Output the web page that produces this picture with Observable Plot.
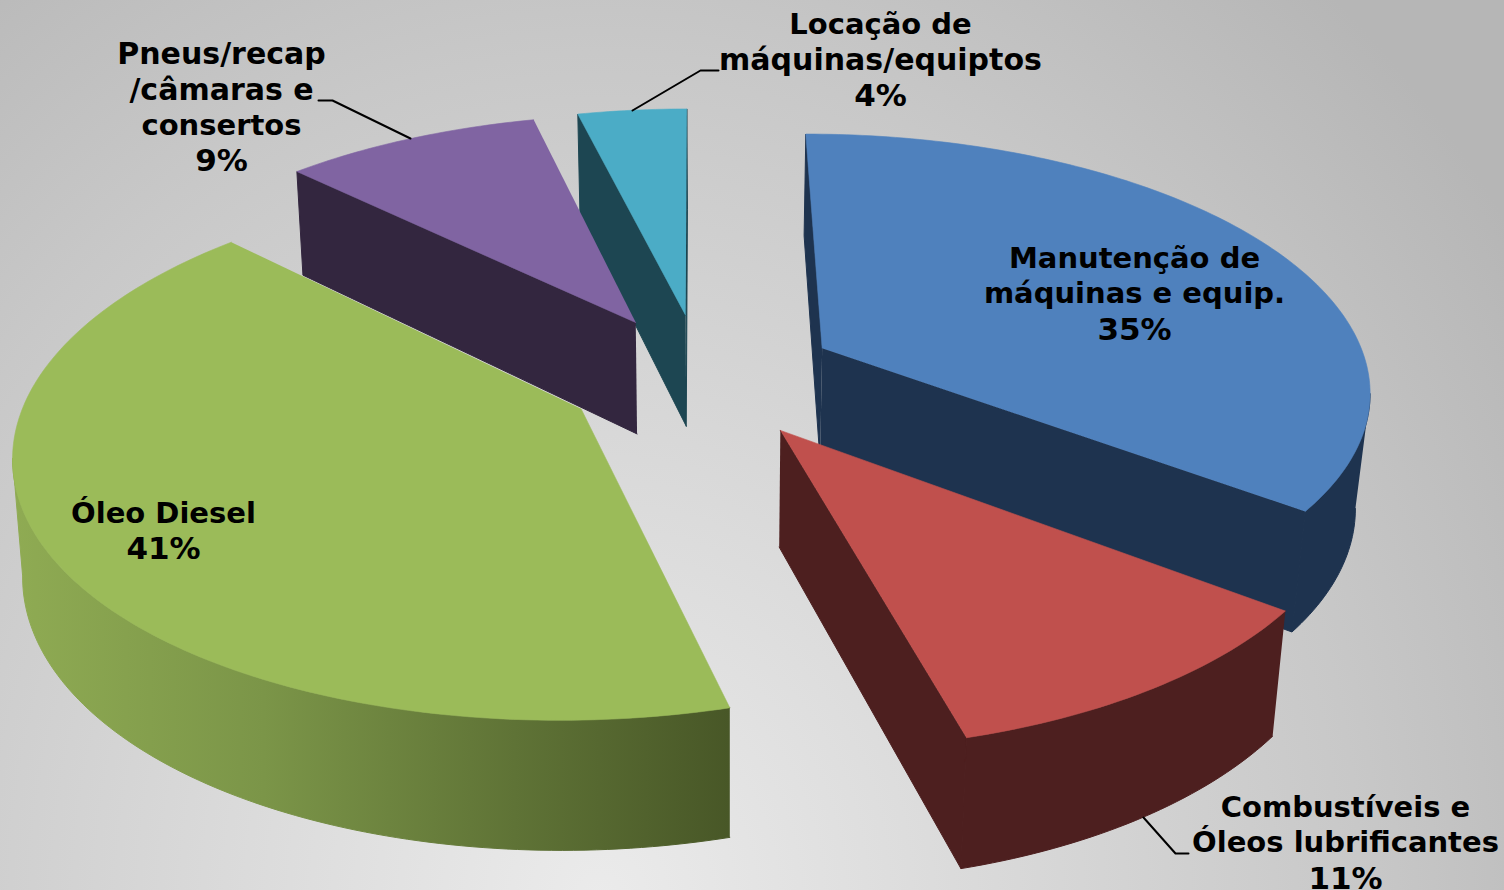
<!DOCTYPE html>
<html><head><meta charset="utf-8">
<script src="https://cdn.jsdelivr.net/npm/d3@7"></script>
<script src="https://cdn.jsdelivr.net/npm/@observablehq/plot@0.6"></script>
<style>
html,body{margin:0;padding:0;width:1504px;height:890px;overflow:hidden;
background:radial-gradient(ellipse 950px 1060px at 600px 900px,#ebebeb 0%,#dcdcdc 35%,#c8c8c8 80%,#b6b6b6 115%);}
svg{display:block;background:transparent!important}
</style></head><body>
<div id="chart"></div>
<script>
// Data
const categories = ["Manutenção de\nmáquinas e equip.","Combustíveis e\nÓleos lubrificantes","Óleo Diesel","Pneus/recap\n/câmaras e\nconsertos","Locação de\nmáquinas/equiptos"];
const shares = [35.37, 10.49, 41.47, 8.89, 3.78];
const percentLabels = ["35%","11%","41%","9%","4%"];
const topColors = ["#4f81bd","#c0504d","#9bbb59","#8064a2","#4bacc6"];
const sideColors = ["#1e334f","#4d1f1f","url(#greenSide)","#33263f","#1d4652"];
const labelX = [1134,1345,163,221,880];
const labelY = [258,807,513,54,24];
const leaders = [
  [[632,110],[700,70],[718,70]],
  [[410,138],[332,100],[318,100]],
  [[1143,817],[1175,853],[1188,853]]
];
const drawOrder = [0,4,3,1,2];

// Projection of the tilted, exploded pie
const startAngle=-0.1, cx=701, cy=375.5, A=548, B=254, k=0.15, explode=0.25, depth=114, k2=0.11, vx=730;
const top3 = (u,v)=>{const w=1-k*v; return [cx+A*u/w, cy+B*v/w];};
const bot3 = (u,v)=>{const [x,y]=top3(u,v); return [vx+(x-vx)*(x>vx?0.977:0.986), y+depth/(1-k2*v)];};
const rad = d=>d*Math.PI/180;
let acc=0;
const slices = shares.map((s,i)=>{
  const a0=startAngle+acc*3.6, a1=startAngle+(acc+s)*3.6; acc+=s;
  const mid=rad((a0+a1)/2);
  const ox=explode*Math.sin(mid), oy=-explode*Math.cos(mid);
  const arcUV=[];
  const n=Math.max(6,Math.ceil(a1-a0));
  for(let j=0;j<=n;j++){
    const t=rad(a0+(a1-a0)*j/n);
    arcUV.push([ox+Math.sin(t),oy-Math.cos(t)]);
  }
  // the rim faces the viewer from the slice's outermost screen point round the front
  const xs=arcUV.map(p=>top3(...p)[0]);
  const wallUV = Math.sin(mid)>0
    ? arcUV.slice(xs.indexOf(Math.max(...xs)))
    : arcUV.slice(0,xs.indexOf(Math.min(...xs))+1);
  return {i,ox,oy,arcUV,wallUV};
});
const poly=(pts,fill,sw=0.6)=>Plot.line(pts,{x:d=>d[0],y:d=>d[1],fill,stroke:fill,strokeWidth:sw,curve:"linear"});
const sideOf=(a,b,p)=>(b[0]-a[0])*(p[1]-a[1])-(b[1]-a[1])*(p[0]-a[0]);
const marks=[];
marks.push(()=>{
  const ns="http://www.w3.org/2000/svg";
  const defs=document.createElementNS(ns,"defs");
  const g=document.createElementNS(ns,"linearGradient");
  g.setAttribute("id","greenSide");
  [["0%","#8fab53"],["35%","#7b9548"],["70%","#5f7336"],["100%","#485727"]].forEach(([o,c])=>{
    const st=document.createElementNS(ns,"stop");st.setAttribute("offset",o);st.setAttribute("stop-color",c);g.appendChild(st);
  });
  defs.appendChild(g);return defs;
});
for(const i of drawOrder){
  const s=slices[i];
  const first=s.arcUV[0], last=s.arcUV[s.arcUV.length-1], middle=s.arcUV[s.arcUV.length>>1];
  const apex=[s.ox,s.oy];
  const side=sideColors[i];
  const flat=side.startsWith("url")?"#5f7336":side;
  for(const e of [first,last]){
    const a=top3(...apex), b=top3(...e);
    if(sideOf(a,b,bot3(...apex))*sideOf(a,b,top3(...middle))<0)
      marks.push(poly([a,b,bot3(...e),bot3(...apex)],flat,1));
  }
  if(s.wallUV.length>1)
    marks.push(poly([...s.wallUV.map(p=>top3(...p)),...s.wallUV.slice().reverse().map(p=>bot3(...p))],side,1));
  marks.push(poly([top3(...apex),...s.arcUV.map(p=>top3(...p))],topColors[i]));
}
for(const l of leaders) marks.push(Plot.line(l,{x:d=>d[0],y:d=>d[1],stroke:"#000",strokeWidth:2,curve:"linear"}));
categories.forEach((c,i)=>{
  const lines=[...c.split("\n"),percentLabels[i]];
  marks.push(Plot.text(lines,{x:()=>labelX[i],y:(d,j)=>labelY[i]+j*35.6,text:d=>d,textAnchor:"middle",lineAnchor:"middle",
    fontFamily:"'DejaVu Sans'",fontWeight:"bold",fontSize:d=>d.endsWith("%")?31:d.includes("/")?30:29,fill:"#000"}));
});
const chart=Plot.plot({width:1504,height:890,margin:0,
  x:{domain:[0,1504],range:[0,1504],axis:null},
  y:{domain:[0,890],range:[0,890],axis:null},
  style:{background:"transparent"},
  marks});
document.getElementById("chart").appendChild(chart);
</script>
</body></html>
